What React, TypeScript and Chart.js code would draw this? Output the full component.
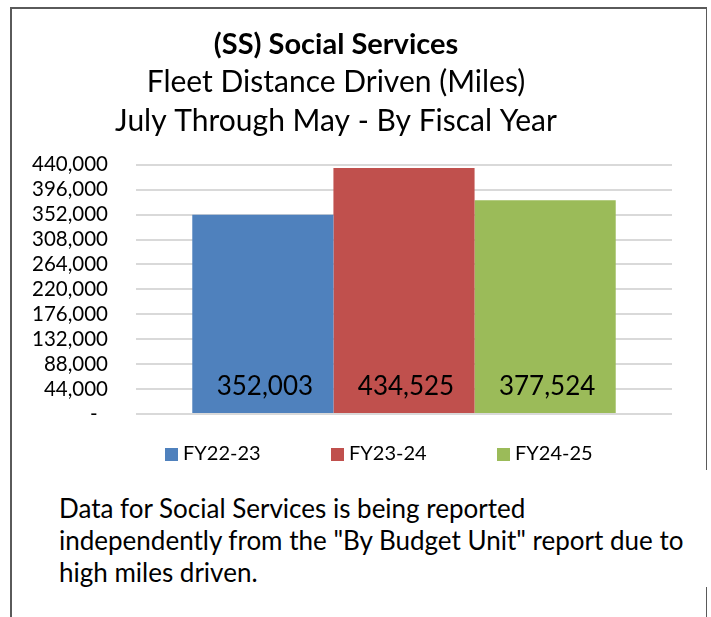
import React, { useEffect, useRef } from "react";
import { Chart, registerables } from "chart.js";

Chart.register(...registerables);

// ---- data ----
const categories = ["Social Services"];
const seriesLabels = ["FY22-23", "FY23-24", "FY24-25"];
const fy2223Values = [352003];
const fy2324Values = [434525];
const fy2425Values = [377524];
const seriesColors = ["#4F81BD", "#C0504D", "#9BBB59"];
const yTickValues = [0, 44000, 88000, 132000, 176000, 220000, 264000, 308000, 352000, 396000, 440000];
const titleText = "(SS) Social Services";
const subtitleLines = ["Fleet Distance Driven (Miles)", "July Through May - By Fiscal Year"];
const noteLines = [
  "Data for Social Services is being reported",
  'independently from the "By Budget Unit" report due to',
  "high miles driven.",
];

const FONT = "Lato, 'Open Sans', sans-serif";
const fmt = (v: number) => v.toLocaleString("en-US");

const dataLabelPlugin = {
  id: "barValueLabels",
  afterDatasetsDraw(chart: any) {
    const { ctx } = chart;
    const y0 = chart.scales.y.getPixelForValue(0);
    ctx.save();
    ctx.font = `26px ${FONT}`;
    ctx.fillStyle = "#000";
    ctx.textAlign = "center";
    ctx.textBaseline = "middle";
    chart.data.datasets.forEach((ds: any, i: number) => {
      const meta = chart.getDatasetMeta(i);
      meta.data.forEach((el: any, j: number) => {
        ctx.fillText(fmt(ds.data[j]), el.x + 2, y0 - 27);
      });
    });
    ctx.restore();
  },
};

const legendPlugin = {
  id: "bottomLegend",
  afterDraw(chart: any) {
    const { ctx, chartArea } = chart;
    ctx.save();
    ctx.font = `20px ${FONT}`;
    const box = 13;
    const gap = 5;
    const step = 166;
    const y = chartArea.bottom + 40;
    let x = chartArea.left + 29;
    chart.data.datasets.forEach((ds: any) => {
      ctx.fillStyle = ds.backgroundColor;
      ctx.fillRect(x, Math.round(y - box / 2), box, box);
      ctx.fillStyle = "#000";
      ctx.textAlign = "left";
      ctx.textBaseline = "middle";
      ctx.fillText(ds.label, x + box + gap, y);
      x += step;
    });
    ctx.restore();
  },
};

function ChartCanvas() {
  const ref = useRef<HTMLCanvasElement | null>(null);
  useEffect(() => {
    if (!ref.current) return;
    const seriesValues = [fy2223Values, fy2324Values, fy2425Values];
    const chart = new Chart(ref.current, {
      type: "bar",
      data: {
        labels: categories,
        datasets: seriesLabels.map((label, i) => ({
          label,
          data: seriesValues[i],
          backgroundColor: seriesColors[i],
          borderWidth: 0,
          categoryPercentage: 0.79,
          barPercentage: 1,
        })),
      },
      options: {
        responsive: false,
        animation: false,
        devicePixelRatio: 1,
        layout: { padding: { left: 0, right: 39, top: 0, bottom: 66 } },
        plugins: {
          legend: { display: false },
          tooltip: { enabled: false },
          title: {
            display: true,
            text: titleText,
            color: "#000",
            font: { family: FONT, size: 29, weight: "bold", lineHeight: 1.2 },
            padding: { top: 27, bottom: 0 },
          },
          subtitle: {
            display: true,
            text: subtitleLines,
            color: "#000",
            font: { family: FONT, size: 30, weight: "normal", lineHeight: 1.3 },
            padding: { top: 1, bottom: 24 },
          },
        },
        scales: {
          x: { display: false },
          y: {
            min: 0,
            max: 440000,
            afterBuildTicks: (s: any) => {
              s.ticks = yTickValues.map((v) => ({ value: v }));
            },
            afterFit: (s: any) => {
              s.width = 136;
            },
            border: { display: false },
            grid: { color: "#d9d9d9", lineWidth: 2, drawTicks: false },
            ticks: {
              autoSkip: false,
              padding: 28,
              color: "#000",
              font: { family: FONT, size: 20.5 },
              callback: (v: any) => (Number(v) === 0 ? "-  " : fmt(Number(v))),
            },
          },
        },
      },
      plugins: [dataLabelPlugin, legendPlugin],
    });
    return () => chart.destroy();
  }, []);
  return <canvas ref={ref} width={711} height={480} style={{ display: "block", position: "absolute", left: 0, top: 0 }} />;
}

export default function App() {
  const line = (style: React.CSSProperties) => (
    <div style={{ position: "absolute", background: "#5a5a5a", ...style }} />
  );
  return (
    <div style={{ position: "fixed", left: 0, top: 0, width: 711, height: 617, background: "#fff", overflow: "hidden" }}>
      <ChartCanvas />
      {line({ left: 10, top: 7, width: 697, height: 1.5 })}
      {line({ left: 10, top: 7, width: 1.5, height: 610 })}
      {line({ left: 705.5, top: 7, width: 1.5, height: 463 })}
      {line({ left: 705.5, top: 587, width: 1.5, height: 30 })}
      <div
        style={{
          position: "absolute",
          left: 59,
          top: 492,
          fontFamily: FONT,
          fontSize: 26,
          lineHeight: "32px",
          color: "#000",
          whiteSpace: "nowrap",
        }}
      >
        {noteLines.map((t, i) => (
          <div key={i}>{t}</div>
        ))}
      </div>
    </div>
  );
}
